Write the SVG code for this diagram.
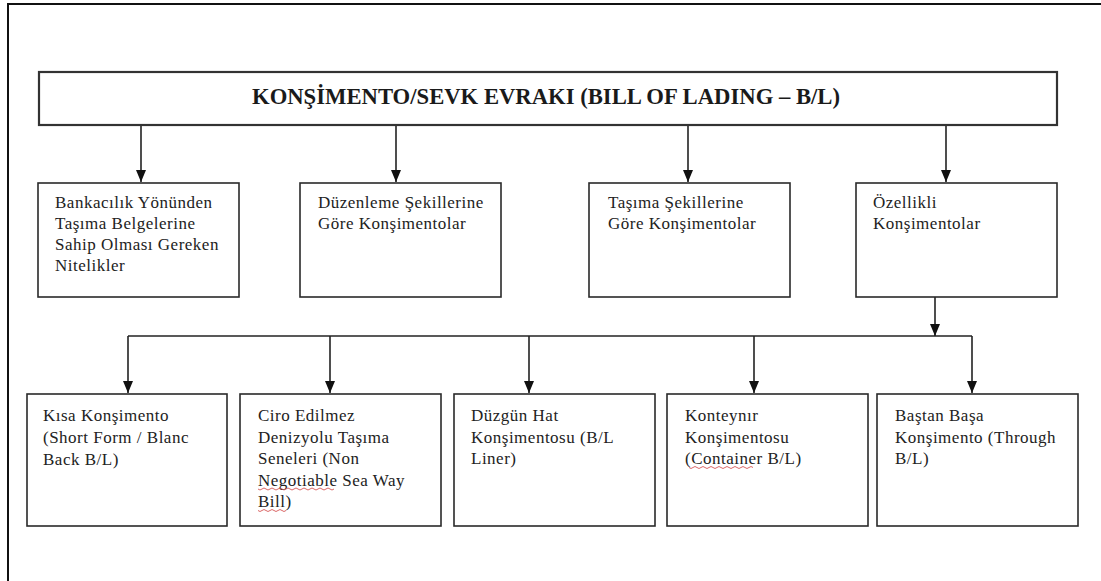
<svg xmlns="http://www.w3.org/2000/svg" width="1101" height="581" viewBox="0 0 1101 581">
<style>
.box{fill:#fff;stroke:#2a2a2a;stroke-width:1.6}
.title{fill:#fff;stroke:#333;stroke-width:2.2}
.t{font-family:"Liberation Serif","Times New Roman",serif;font-size:17px;letter-spacing:0.5px;fill:#222}
.h{font-family:"Liberation Serif","Times New Roman",serif;font-size:24px;font-weight:bold;fill:#1a1a1a}
.c{stroke:#222;stroke-width:1.6;fill:none}
.a{marker-end:url(#ah)}
.sq{stroke:#d04040;stroke-width:0.8;fill:none}
</style>
<defs>
<marker id="ah" markerWidth="12" markerHeight="10" refX="12" refY="5" orient="auto" markerUnits="userSpaceOnUse" viewBox="0 0 12 10">
<path d="M0,0 L12,5 L0,10 Z" fill="#111"/>
</marker>
</defs>
<rect width="1101" height="581" fill="#fff"/>
<g id="frame">
<path d="M8,581 L8,4 L1101,4" stroke="#111" stroke-width="2" fill="none"/>
</g>
<g id="connectors">
<path class="c a" d="M141,125 V182"/>
<path class="c a" d="M396,125 V182"/>
<path class="c a" d="M688,125 V182"/>
<path class="c a" d="M946,125 V182"/>
<path class="c a" d="M935,297 V336"/>
<path class="c" d="M128,336 H972"/>
<path class="c a" d="M128,336 V393"/>
<path class="c a" d="M330,336 V393"/>
<path class="c a" d="M529,336 V393"/>
<path class="c a" d="M754,336 V393"/>
<path class="c a" d="M972,336 V393"/>
</g>
<g id="title">
<rect class="title" x="39" y="72" width="1018" height="53"/>
<text class="h" x="546" y="104" text-anchor="middle" textLength="588" lengthAdjust="spacingAndGlyphs">KONŞİMENTO/SEVK EVRAKI (BILL OF LADING – B/L)</text>
</g>
<g id="n1">
<rect class="box" x="38" y="183" width="201" height="114"/>
<text class="t" x="55" y="208">Bankacılık Yönünden</text>
<text class="t" x="55" y="229">Taşıma Belgelerine</text>
<text class="t" x="55" y="250">Sahip Olması Gereken</text>
<text class="t" x="55" y="271">Nitelikler</text>
</g>
<g id="n2">
<rect class="box" x="300" y="183" width="201" height="114"/>
<text class="t" x="318" y="208">Düzenleme Şekillerine</text>
<text class="t" x="318" y="229">Göre Konşimentolar</text>
</g>
<g id="n3">
<rect class="box" x="589" y="183" width="201" height="114"/>
<text class="t" x="608" y="208">Taşıma Şekillerine</text>
<text class="t" x="608" y="229">Göre Konşimentolar</text>
</g>
<g id="n4">
<rect class="box" x="856" y="183" width="201" height="114"/>
<text class="t" x="873" y="208">Özellikli</text>
<text class="t" x="873" y="229">Konşimentolar</text>
</g>
<g id="b1">
<rect class="box" x="27" y="394" width="200" height="132"/>
<text class="t" x="43" y="421">Kısa Konşimento</text>
<text class="t" x="43" y="443">(Short Form / Blanc</text>
<text class="t" x="43" y="465">Back B/L)</text>
</g>
<g id="b2">
<rect class="box" x="240" y="394" width="201" height="132"/>
<text class="t" x="258" y="421">Ciro Edilmez</text>
<text class="t" x="258" y="442.5">Denizyolu Taşıma</text>
<text class="t" x="258" y="464">Seneleri (Non</text>
<text class="t" x="258" y="485.5">Negotiable Sea Way</text>
<text class="t" x="258" y="507">Bill)</text>
<path class="sq" d="M258,489 q2,2 4,0 t4,0 t4,0 t4,0 t4,0 t4,0 t4,0 t4,0 t4,0 t4,0 t4,0 t4,0 t4,0 t4,0 t4,0 t4,0 t4,0 t4,0 t4,0"/>
<path class="sq" d="M258,510.5 q2,2 4,0 t4,0 t4,0 t4,0 t4,0 t4,0 t4,0"/>
</g>
<g id="b3">
<rect class="box" x="454" y="394" width="201" height="132"/>
<text class="t" x="471" y="421">Düzgün Hat</text>
<text class="t" x="471" y="442.5">Konşimentosu (B/L</text>
<text class="t" x="471" y="464">Liner)</text>
</g>
<g id="b4">
<rect class="box" x="667" y="394" width="201" height="132"/>
<text class="t" x="685" y="421">Konteynır</text>
<text class="t" x="685" y="442.5">Konşimentosu</text>
<text class="t" x="685" y="464">(Container B/L)</text>
<path class="sq" d="M689,467.5 q2,2 4,0 t4,0 t4,0 t4,0 t4,0 t4,0 t4,0 t4,0 t4,0 t4,0 t4,0 t4,0 t4,0 t4,0 t4,0 t4,0"/>
</g>
<g id="b5">
<rect class="box" x="877" y="394" width="201" height="132"/>
<text class="t" x="895" y="421">Baştan Başa</text>
<text class="t" x="895" y="442.5">Konşimento (Through</text>
<text class="t" x="895" y="464">B/L)</text>
</g>
</svg>
